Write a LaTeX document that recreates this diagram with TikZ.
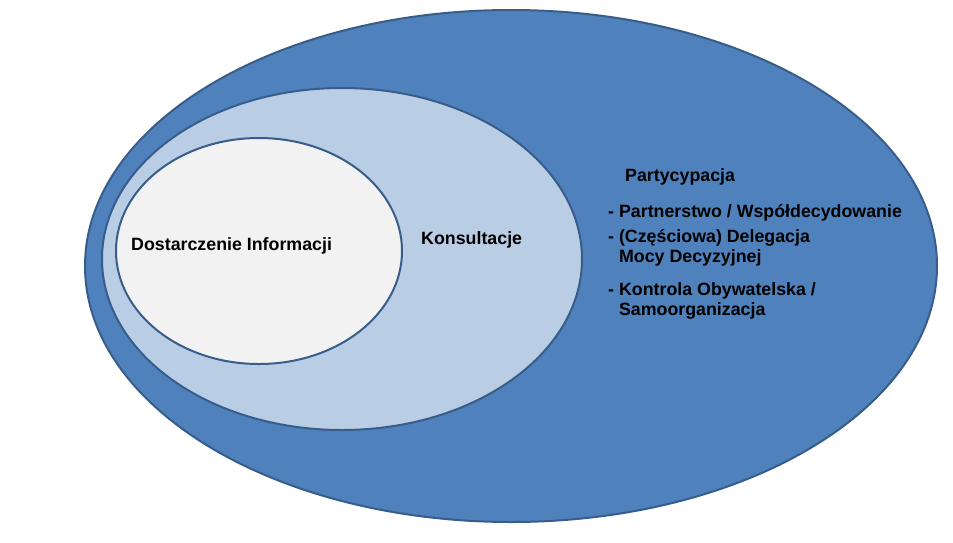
\documentclass[tikz,border=0pt]{standalone}
\usepackage{fontspec}
\setmainfont{Liberation Sans}
\definecolor{partblue}{HTML}{4F81BD}
\definecolor{konsblue}{HTML}{B9CDE5}
\definecolor{infogray}{HTML}{F2F2F2}
\definecolor{rimblue}{HTML}{385D8A}
\tikzset{
  ring/.style={draw=rimblue, line width=2pt},
  lbl/.style={inner sep=0pt, anchor=base west, align=left, font=\bfseries\fontsize{17.8}{19.5}\selectfont}
}
\begin{document}
\begin{tikzpicture}[x=1pt,y=-1pt]
\useasboundingbox (0,0) rectangle (953,542);
\coordinate (C0) at (511, 266) ;
\coordinate (C1) at (342, 259) ;
\coordinate (C2) at (259, 251) ;

\draw [ring, fill=partblue] (C0) ellipse (426pt and 256pt) ;
\draw [ring, fill=konsblue] (C1) ellipse (240pt and 171pt) ;
\draw [ring, fill=infogray] (C2) ellipse (143pt and 113pt) ;

\node [lbl] (info) at (131, 250) {Dostarczenie Informacji} ;
\node [lbl] (kons) at (421, 244) {Konsultacje} ;
\node [lbl] (part) at (625, 181) {Partycypacja} ;
\node [lbl] (wspol) at (608, 217) {- Partnerstwo / Współdecydowanie} ;
\node [lbl] (deleg) at (608, 262) {- (Częściowa) Delegacja\\\phantom{- }Mocy Decyzyjnej} ;
\node [lbl] (kontr) at (608, 315) {- Kontrola Obywatelska /\\\phantom{- }Samoorganizacja} ;
\end{tikzpicture}
\end{document}
